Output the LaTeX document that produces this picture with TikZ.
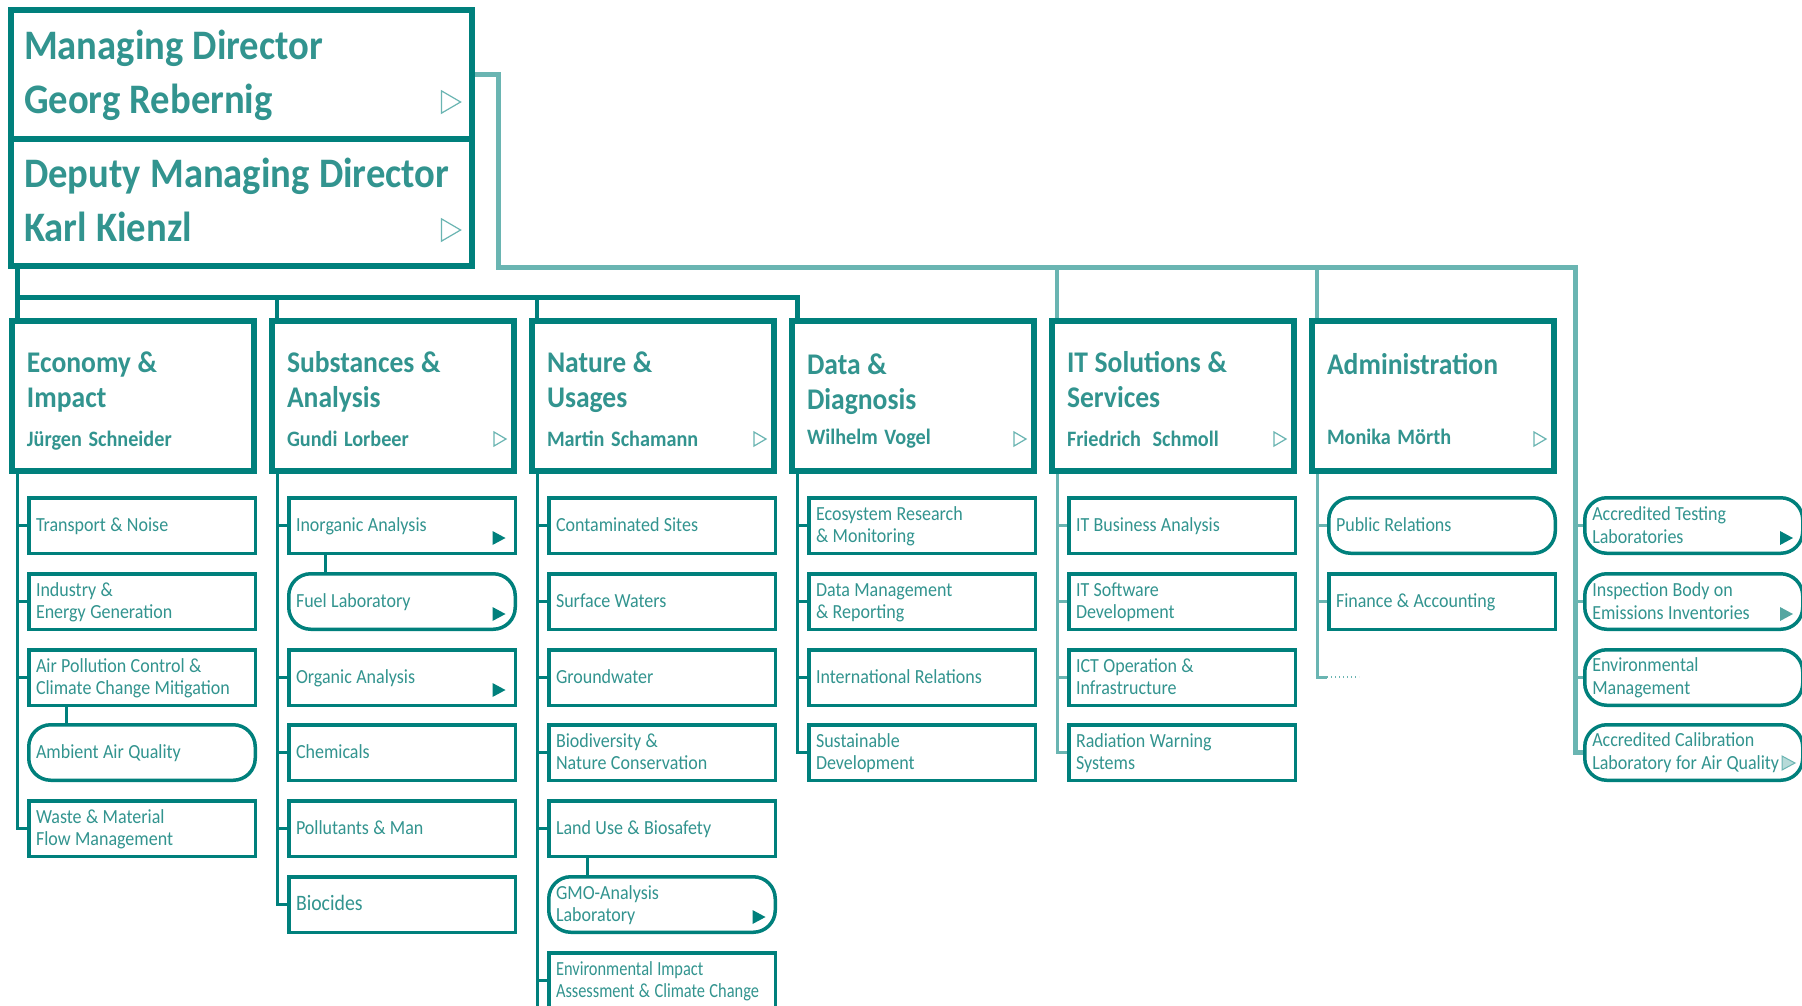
\documentclass[tikz,border=0pt]{standalone}
\usepackage{fontspec}
\setmainfont{Carlito}
\newfontfamily\headfont{Carlito}[FakeStretch=0.92]
\newfontfamily\kidfont{Carlito}[FakeStretch=0.9]
\newfontfamily\slimfont{Carlito}[FakeStretch=0.82]
\newcommand{\namefont}{\fontsize{22}{35}\selectfont}
\newcommand{\tightspace}{\spaceskip=0.22em\xspaceskip=0.22em\relax}

\definecolor{tealdark}{RGB}{0,128,124}
\definecolor{tealtext}{RGB}{50,148,143}
\definecolor{teallight}{RGB}{106,181,178}
\definecolor{tealmid}{RGB}{84,166,161}
\definecolor{tealpale}{RGB}{182,218,216}

\tikzset{
  playfull/.pic={\fill[tealdark] (-6.5pt,-7pt) -- (6.5pt,0pt) -- (-6.5pt,7pt) -- cycle;},
  playmid/.pic={\fill[tealmid] (-6.5pt,-7pt) -- (6.5pt,0pt) -- (-6.5pt,7pt) -- cycle;},
  playpale/.pic={\filldraw[fill=tealpale, draw=teallight, line width=1pt] (-6.5pt,-7pt) -- (6.5pt,0pt) -- (-6.5pt,7pt) -- cycle;},
  playopen/.pic={\draw[teallight, line width=1.2pt] (-6pt,-7pt) -- (6pt,0pt) -- (-6pt,7pt) -- cycle;},
}

\begin{document}
\begin{tikzpicture}[x=1pt, y=-1pt,
    topbox/.style={draw=tealdark, line width=6pt, minimum width=461pt, text width=435pt,
      align=left, inner xsep=0pt, text=tealtext, anchor=north west,
      font=\headfont\bfseries\fontsize{42}{54}\selectfont,
      execute at begin node={\tightspace\rule{0pt}{33pt}}, execute at end node={\rule[-10pt]{0pt}{10pt}}},
    deptbox/.style={draw=tealdark, line width=6pt, minimum width=242pt, minimum height=150pt,
      text width=212pt, align=left, inner xsep=0pt, text=tealtext, anchor=north west,
      font=\headfont\bfseries\fontsize{30}{35}\selectfont,
      execute at begin node={\tightspace\rule{0pt}{32pt}}, execute at end node={\rule[-6pt]{0pt}{6pt}}},
    unitbox/.style={draw=tealdark, line width=3.5pt, minimum width=226.5pt, minimum height=55.5pt,
      text width=212pt, align=left, inner xsep=0pt, text=tealtext, anchor=north west,
      font=\kidfont\fontsize{20}{22}\selectfont,
      execute at begin node={\tightspace\rule{0pt}{15pt}}, execute at end node={\rule[-3pt]{0pt}{3pt}}},
    labbox/.style={unitbox, rounded corners=22pt},
    sidebox/.style={labbox, minimum width=218pt, text width=203pt, font=\kidfont\fontsize{20}{23}\selectfont},
    busdark/.style={draw=tealdark, line width=5pt},
    dropdark/.style={draw=tealdark, line width=4pt},
    spinedark/.style={draw=tealdark, line width=3pt},
    buslight/.style={draw=teallight, line width=5pt},
    droplight/.style={draw=teallight, line width=3.5pt},
    spinelight/.style={draw=teallight, line width=3pt},
  ]
  \useasboundingbox (0,0) rectangle (1802,1005);
  \fill[white] (0,0) rectangle (1802,1005);

  % Management
  \node[topbox, minimum height=129pt] (md) at (8,7) {Managing Director\\Georg Rebernig};
  \node[topbox, minimum height=127pt] (dmd) at (8,136) {Deputy Managing Director\\Karl Kienzl};
  \pic[scale=1.6] at ([shift={(-24pt,40pt)}]md.south east) {playopen};
  \pic[scale=1.6] at ([shift={(-24pt,39pt)}]dmd.south east) {playopen};

  % Departments
  \node[deptbox] (eco) at (9,318) {Economy \&\\Impact\\[4pt]{\namefont Jürgen Schneider}};
  \node[deptbox] (sub) at (269,318) {Substances \&\\Analysis\\[4pt]{\namefont Gundi Lorbeer}};
  \node[deptbox] (nat) at (529,318) {Nature \&\\Usages\\[4pt]{\namefont Martin Schamann}};
  \node[deptbox] (dat) at (789,318) {Data \&\\Diagnosis\\[0pt]{\namefont Wilhelm Vogel}};
  \node[deptbox] (its) at (1049,318) {IT Solutions \&\\Services\\[4pt]{\namefont Friedrich\hspace{5pt} Schmoll}};
  \node[deptbox] (adm) at (1309,318) {Administration\\[35pt]{\namefont Monika Mörth}};
  \pic at ([shift={(-17pt,35pt)}]sub.south east) {playopen};
  \pic at ([shift={(-17pt,35pt)}]nat.south east) {playopen};
  \pic at ([shift={(-17pt,35pt)}]dat.south east) {playopen};
  \pic at ([shift={(-17pt,35pt)}]its.south east) {playopen};
  \pic at ([shift={(-17pt,35pt)}]adm.south east) {playopen};

  % Economy & Impact
  \node[unitbox] (eco1) at (27,496) {Transport \& Noise};
  \node[unitbox] (eco2) at (27,572) {Industry \&\\Energy Generation};
  \node[unitbox] (eco3) at (27,648) {Air Pollution Control \&\\Climate Change Mitigation};
  \node[labbox] (eco4) at (27,723) {Ambient Air Quality};
  \node[unitbox] (eco5) at (27,799) {Waste \& Material\\Flow Management};

  % Substances & Analysis
  \node[unitbox] (sub1) at (287,496) {Inorganic Analysis};
  \node[labbox] (sub2) at (287,572) {Fuel Laboratory};
  \node[unitbox] (sub3) at (287,648) {Organic Analysis};
  \node[unitbox] (sub4) at (287,723) {Chemicals};
  \node[unitbox] (sub5) at (287,799) {Pollutants \& Man};
  \node[unitbox, font=\kidfont\fontsize{22}{24}\selectfont] (sub6) at (287,875) {Biocides};
  \pic at ([shift={(-18pt,17pt)}]sub1.south east) {playfull};
  \pic at ([shift={(-18pt,17pt)}]sub2.south east) {playfull};
  \pic at ([shift={(-18pt,17pt)}]sub3.south east) {playfull};

  % Nature & Usages
  \node[unitbox] (nat1) at (547,496) {Contaminated Sites};
  \node[unitbox] (nat2) at (547,572) {Surface Waters};
  \node[unitbox] (nat3) at (547,648) {Groundwater};
  \node[unitbox] (nat4) at (547,723) {Biodiversity \&\\Nature Conservation};
  \node[unitbox] (nat5) at (547,799) {Land Use \& Biosafety};
  \node[labbox] (nat6) at (547,875) {GMO-Analysis\\Laboratory};
  \node[unitbox, font=\slimfont\fontsize{20}{22}\selectfont] (nat7) at (547,951) {\mbox{Environmental Impact}\\\mbox{Assessment \& Climate Change}};
  \pic at ([shift={(-18pt,17pt)}]nat6.south east) {playfull};

  % Data & Diagnosis
  \node[unitbox] (dat1) at (807,496) {Ecosystem Research\\\& Monitoring};
  \node[unitbox] (dat2) at (807,572) {Data Management\\\& Reporting};
  \node[unitbox] (dat3) at (807,648) {International Relations};
  \node[unitbox] (dat4) at (807,723) {Sustainable\\Development};

  % IT Solutions & Services
  \node[unitbox] (its1) at (1067,496) {IT Business Analysis};
  \node[unitbox] (its2) at (1067,572) {IT Software\\Development};
  \node[unitbox] (its3) at (1067,648) {ICT Operation \&\\Infrastructure};
  \node[unitbox] (its4) at (1067,723) {Radiation Warning\\Systems};

  % Administration
  \node[labbox] (adm1) at (1327,496) {Public Relations};
  \node[unitbox] (adm2) at (1327,572) {Finance \& Accounting};

  % Accredited bodies
  \node[sidebox] (qa1) at (1583,496) {Accredited Testing\\Laboratories};
  \node[sidebox] (qa2) at (1583,572) {Inspection Body on\\Emissions Inventories};
  \node[sidebox] (qa3) at (1583,648) {Environmental\\Management};
  \node[sidebox] (qa4) at (1583,723) {Accredited Calibration\\Laboratory for Air Quality};
  \pic at ([shift={(-18pt,17pt)}]qa1.south east) {playfull};
  \pic at ([shift={(-18pt,17pt)}]qa2.south east) {playmid};
  \pic at ([shift={(-16pt,19pt)}]qa4.south east) {playpale};

  % Lines from the management
  \coordinate (dbus) at (797,297);
  \coordinate (lbus) at (1575,267);
  \draw[dropdark] ([xshift=8pt]sub.north west) |- (dbus);
  \draw[dropdark] ([xshift=8pt]nat.north west) |- (dbus);
  \draw[busdark] ([xshift=9pt]dmd.south west) -- ([xshift=8pt]eco.north west);
  \draw[busdark] ([xshift=8pt]eco.north west) |- (dbus) -- ([xshift=8pt]dat.north west);
  \draw[droplight] ([xshift=8pt]its.north west) |- (lbus);
  \draw[droplight] ([xshift=8pt]adm.north west) |- (lbus);
  \draw[buslight] (md.east) -- ++(23pt,0pt) |- (lbus) |- (qa4.west);
  \draw[spinelight] (lbus) |- (qa1.west);
  \draw[spinelight] (lbus) |- (qa2.west);
  \draw[spinelight] (lbus) |- (qa3.west);

  % Lines in the departments
  \draw[spinedark] ([xshift=8pt]eco.south west) |- (eco1.west);
  \draw[spinedark] ([xshift=8pt]eco.south west) |- (eco2.west);
  \draw[spinedark] ([xshift=8pt]eco.south west) |- (eco3.west);
  \draw[spinedark] ([xshift=8pt]eco.south west) |- (eco5.west);
  \draw[spinedark] ([xshift=39pt]eco3.south west) -- ([xshift=39pt]eco4.north west);

  \draw[spinedark] ([xshift=8pt]sub.south west) |- (sub1.west);
  \draw[spinedark] ([xshift=8pt]sub.south west) |- (sub3.west);
  \draw[spinedark] ([xshift=8pt]sub.south west) |- (sub4.west);
  \draw[spinedark] ([xshift=8pt]sub.south west) |- (sub5.west);
  \draw[spinedark] ([xshift=8pt]sub.south west) |- (sub6.west);
  \draw[spinedark] ([xshift=38pt]sub1.south west) -- ([xshift=38pt]sub2.north west);

  \coordinate (natend) at (537,1010);
  \draw[spinedark] ([xshift=8pt]nat.south west) -- (natend);
  \draw[spinedark] ([xshift=8pt]nat.south west) |- (nat1.west);
  \draw[spinedark] ([xshift=8pt]nat.south west) |- (nat2.west);
  \draw[spinedark] ([xshift=8pt]nat.south west) |- (nat3.west);
  \draw[spinedark] ([xshift=8pt]nat.south west) |- (nat4.west);
  \draw[spinedark] ([xshift=8pt]nat.south west) |- (nat5.west);
  \draw[spinedark] ([xshift=8pt]nat.south west) |- (nat7.west);
  \draw[spinedark] ([xshift=40pt]nat5.south west) -- ([xshift=40pt]nat6.north west);

  \draw[spinedark] ([xshift=8pt]dat.south west) |- (dat1.west);
  \draw[spinedark] ([xshift=8pt]dat.south west) |- (dat2.west);
  \draw[spinedark] ([xshift=8pt]dat.south west) |- (dat3.west);
  \draw[spinedark] ([xshift=8pt]dat.south west) |- (dat4.west);

  \draw[spinelight] ([xshift=8pt]its.south west) |- (its1.west);
  \draw[spinelight] ([xshift=8pt]its.south west) |- (its2.west);
  \draw[spinelight] ([xshift=8pt]its.south west) |- (its3.west);
  \draw[spinelight] ([xshift=8pt]its.south west) |- (its4.west);

  \coordinate (admdots) at (1327,677);
  \draw[spinelight] ([xshift=8pt]adm.south west) |- (adm1.west);
  \draw[spinelight] ([xshift=8pt]adm.south west) |- (adm2.west);
  \draw[spinelight] ([xshift=8pt]adm.south west) |- (admdots);
  \draw[teallight, line width=1.5pt, dash pattern=on 1.2pt off 2.8pt] (admdots) -- ++(32pt,0pt);
\end{tikzpicture}
\end{document}
